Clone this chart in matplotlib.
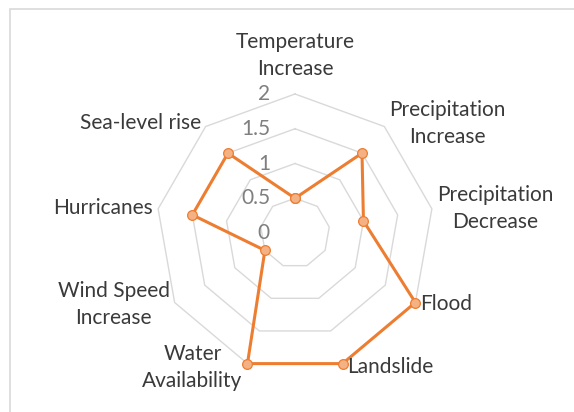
import numpy as np
import matplotlib.pyplot as plt
from matplotlib.patches import Rectangle

categories = ['Temperature\nIncrease', 'Precipitation\nIncrease', 'Precipitation\nDecrease',
              'Flood', 'Landslide', 'Water\nAvailability', 'Wind Speed\nIncrease',
              'Hurricanes', 'Sea-level rise']
values = [0.5, 1.5, 1.0, 2.0, 2.0, 2.0, 0.5, 1.5, 1.5]
rings = [0.5, 1.0, 1.5, 2.0]
tick_labels = ['0', '0.5', '1', '1.5', '2']

plt.rcParams['font.family'] = ['Lato', 'DejaVu Sans']

W, H = 574, 412
fig = plt.figure(figsize=(W / 100, H / 100), dpi=100)
fig.patch.set_facecolor('white')

# chart-area border (only top and left edges fall inside the image)
fig.patches.append(Rectangle((10 / W, -0.1), 1.2, (H - 9) / H + 0.1, transform=fig.transFigure,
                             fill=False, edgecolor='#d9d9d9', linewidth=1.2))

cx, cy, R = 295, 233, 139
ax = fig.add_axes([(cx - R) / W, (H - cy - R) / H, 2 * R / W, 2 * R / H], projection='polar')
ax.set_theta_zero_location('N')
ax.set_theta_direction(-1)
ax.set_ylim(0, 2)
ax.axis('off')

n = len(categories)
theta = np.linspace(0, 2 * np.pi, n, endpoint=False)
theta_closed = np.append(theta, theta[0])

# polygon gridlines
for r in rings:
    ax.plot(theta_closed, [r] * (n + 1), color='#d9d9d9', lw=1.0, clip_on=False, zorder=1)

# series
vals_closed = values + values[:1]
ax.plot(theta_closed, vals_closed, color='#ed7d31', lw=2.2, clip_on=False, zorder=3,
        marker='o', markersize=7, markerfacecolor='#f4b183', markeredgecolor='#ed7d31',
        markeredgewidth=0.9)

# radial axis labels
for r, lab in zip([0] + rings, tick_labels):
    ax.annotate(lab, xy=(0, r), xytext=(-25, 0), textcoords='offset pixels',
                ha='right', va='center', fontsize=15, color='#7f7f7f', annotation_clip=False)

# category labels
for t, lab in zip(theta, categories):
    s = np.sin(t)
    dy = 4 * np.cos(t)
    if s > 0.1:
        ha, va, off = 'left', 'center', (5, dy)
    elif s < -0.1:
        ha, va, off = 'right', 'center', (-5, dy)
    else:
        ha, va, off = 'center', 'bottom', (0, 15)
    ax.annotate(lab, xy=(t, 2), xytext=off, textcoords='offset pixels', ha=ha, va=va,
                multialignment='center', fontsize=15, color='#3a3a3a', linespacing=1.45,
                annotation_clip=False)

fig.savefig('out.png', dpi=100)
